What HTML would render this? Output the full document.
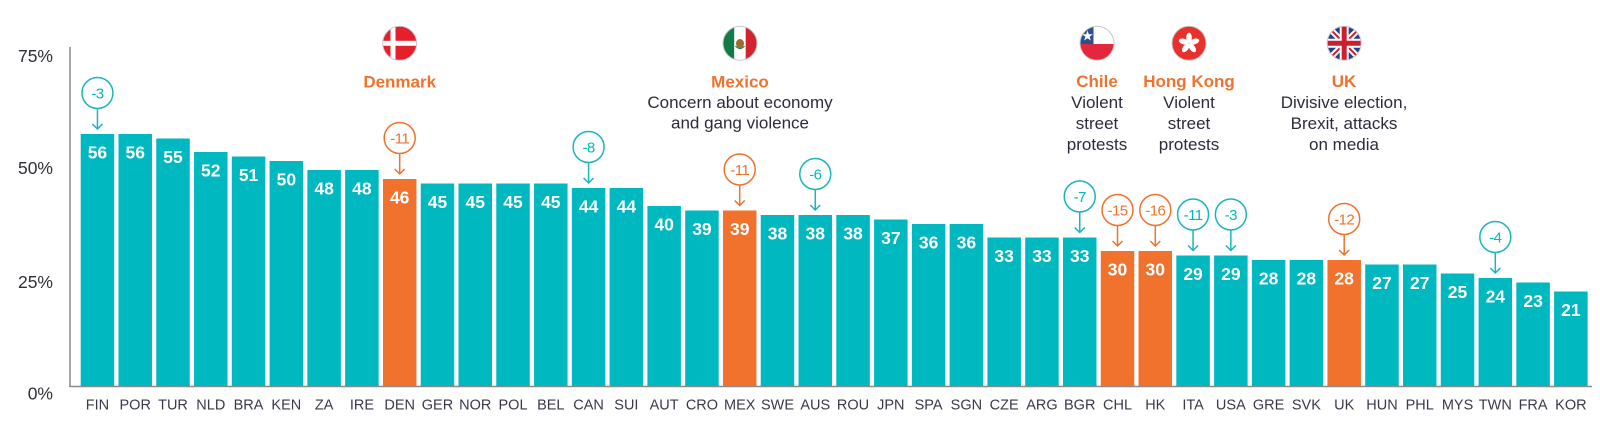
<!DOCTYPE html>
<html>
<head>
<meta charset="utf-8">
<style>
  html,body{margin:0;padding:0;background:#fff;}
  svg{display:block;}
  .yl{font-family:"Liberation Sans",sans-serif;font-size:17.5px;fill:#2f2f3a;text-anchor:end;}
  .cl{font-family:"Liberation Sans",sans-serif;font-size:14.5px;fill:#3a3a48;text-anchor:middle;}
  .vl{font-family:"Liberation Sans",sans-serif;font-size:17.5px;font-weight:bold;fill:#fff;text-anchor:middle;}
  .an{font-family:"Liberation Sans",sans-serif;font-size:15px;letter-spacing:-0.6px;text-anchor:middle;}
  .t{fill:#00b8bf;}
  .o{fill:#f1722c;}
  .hd{font-family:"Liberation Sans",sans-serif;font-size:17px;font-weight:bold;fill:#f1722c;text-anchor:middle;}
  .tx{font-family:"Liberation Sans",sans-serif;font-size:17px;fill:#2c2c3c;text-anchor:middle;}
</style>
</head>
<body>
<svg width="1600" height="421" viewBox="0 0 1600 421" xmlns="http://www.w3.org/2000/svg">
  <defs>
    <clipPath id="cDen"><circle cx="399.7" cy="43.3" r="17"/></clipPath>
    <clipPath id="cMex"><circle cx="740" cy="43.3" r="17"/></clipPath>
    <clipPath id="cChl"><circle cx="1097" cy="43.3" r="17"/></clipPath>
    <clipPath id="cHk"><circle cx="1189" cy="43.3" r="17"/></clipPath>
    <clipPath id="cUk"><circle cx="1344.2" cy="43.3" r="17"/></clipPath>
  </defs>

  <!-- axes -->
  <line x1="70" y1="47" x2="70" y2="386.5" stroke="#8a8a8a" stroke-width="1.5"/>
  <line x1="69.3" y1="386.5" x2="1592" y2="386.5" stroke="#8a8a8a" stroke-width="1.5"/>

  <!-- y labels -->
  <text class="yl" x="53" y="62">75%</text>
  <text class="yl" x="53" y="174">50%</text>
  <text class="yl" x="53" y="288">25%</text>
  <text class="yl" x="53" y="399.5">0%</text>

  <!-- bars -->
  <g fill="#00b8bf">
    <rect x="80.7" y="134" width="33.5" height="252"/>
    <rect x="118.48" y="134" width="33.5" height="252"/>
    <rect x="156.26" y="138.5" width="33.5" height="247.5"/>
    <rect x="194.04" y="152" width="33.5" height="234"/>
    <rect x="231.82" y="156.5" width="33.5" height="229.5"/>
    <rect x="269.6" y="161" width="33.5" height="225"/>
    <rect x="307.38" y="170" width="33.5" height="216"/>
    <rect x="345.16" y="170" width="33.5" height="216"/>
    <rect x="382.94" y="179" width="33.5" height="207" fill="#f1722c"/>
    <rect x="420.72" y="183.5" width="33.5" height="202.5"/>
    <rect x="458.5" y="183.5" width="33.5" height="202.5"/>
    <rect x="496.28" y="183.5" width="33.5" height="202.5"/>
    <rect x="534.06" y="183.5" width="33.5" height="202.5"/>
    <rect x="571.84" y="188" width="33.5" height="198"/>
    <rect x="609.62" y="188" width="33.5" height="198"/>
    <rect x="647.4" y="206" width="33.5" height="180"/>
    <rect x="685.18" y="210.5" width="33.5" height="175.5"/>
    <rect x="722.96" y="210.5" width="33.5" height="175.5" fill="#f1722c"/>
    <rect x="760.74" y="215" width="33.5" height="171"/>
    <rect x="798.52" y="215" width="33.5" height="171"/>
    <rect x="836.3" y="215" width="33.5" height="171"/>
    <rect x="874.08" y="219.5" width="33.5" height="166.5"/>
    <rect x="911.86" y="224" width="33.5" height="162"/>
    <rect x="949.64" y="224" width="33.5" height="162"/>
    <rect x="987.42" y="237.5" width="33.5" height="148.5"/>
    <rect x="1025.2" y="237.5" width="33.5" height="148.5"/>
    <rect x="1062.98" y="237.5" width="33.5" height="148.5"/>
    <rect x="1100.76" y="251" width="33.5" height="135" fill="#f1722c"/>
    <rect x="1138.54" y="251" width="33.5" height="135" fill="#f1722c"/>
    <rect x="1176.32" y="255.5" width="33.5" height="130.5"/>
    <rect x="1214.1" y="255.5" width="33.5" height="130.5"/>
    <rect x="1251.88" y="260" width="33.5" height="126"/>
    <rect x="1289.66" y="260" width="33.5" height="126"/>
    <rect x="1327.44" y="260" width="33.5" height="126" fill="#f1722c"/>
    <rect x="1365.22" y="264.5" width="33.5" height="121.5"/>
    <rect x="1403" y="264.5" width="33.5" height="121.5"/>
    <rect x="1440.78" y="273.5" width="33.5" height="112.5"/>
    <rect x="1478.56" y="278" width="33.5" height="108"/>
    <rect x="1516.34" y="282.5" width="33.5" height="103.5"/>
    <rect x="1554.12" y="291.5" width="33.5" height="94.5"/>
  </g>

  <!-- value labels -->
  <g class="vl">
    <text class="vl" x="97.45" y="158.5">56</text>
    <text class="vl" x="135.23" y="158.5">56</text>
    <text class="vl" x="173.01" y="163">55</text>
    <text class="vl" x="210.79" y="176.5">52</text>
    <text class="vl" x="248.57" y="181">51</text>
    <text class="vl" x="286.35" y="185.5">50</text>
    <text class="vl" x="324.13" y="194.5">48</text>
    <text class="vl" x="361.91" y="194.5">48</text>
    <text class="vl" x="399.69" y="203.5">46</text>
    <text class="vl" x="437.47" y="208">45</text>
    <text class="vl" x="475.25" y="208">45</text>
    <text class="vl" x="513.03" y="208">45</text>
    <text class="vl" x="550.81" y="208">45</text>
    <text class="vl" x="588.59" y="212.5">44</text>
    <text class="vl" x="626.37" y="212.5">44</text>
    <text class="vl" x="664.15" y="230.5">40</text>
    <text class="vl" x="701.93" y="235">39</text>
    <text class="vl" x="739.71" y="235">39</text>
    <text class="vl" x="777.49" y="239.5">38</text>
    <text class="vl" x="815.27" y="239.5">38</text>
    <text class="vl" x="853.05" y="239.5">38</text>
    <text class="vl" x="890.83" y="244">37</text>
    <text class="vl" x="928.61" y="248.5">36</text>
    <text class="vl" x="966.39" y="248.5">36</text>
    <text class="vl" x="1004.17" y="262">33</text>
    <text class="vl" x="1041.95" y="262">33</text>
    <text class="vl" x="1079.73" y="262">33</text>
    <text class="vl" x="1117.51" y="275.5">30</text>
    <text class="vl" x="1155.29" y="275.5">30</text>
    <text class="vl" x="1193.07" y="280">29</text>
    <text class="vl" x="1230.85" y="280">29</text>
    <text class="vl" x="1268.63" y="284.5">28</text>
    <text class="vl" x="1306.41" y="284.5">28</text>
    <text class="vl" x="1344.19" y="284.5">28</text>
    <text class="vl" x="1381.97" y="289">27</text>
    <text class="vl" x="1419.75" y="289">27</text>
    <text class="vl" x="1457.53" y="298">25</text>
    <text class="vl" x="1495.31" y="302.5">24</text>
    <text class="vl" x="1533.09" y="307">23</text>
    <text class="vl" x="1570.87" y="316">21</text>
  </g>

  <!-- country labels -->
  <g>
    <text class="cl" x="97.45" y="409.5">FIN</text>
    <text class="cl" x="135.23" y="409.5">POR</text>
    <text class="cl" x="173.01" y="409.5">TUR</text>
    <text class="cl" x="210.79" y="409.5">NLD</text>
    <text class="cl" x="248.57" y="409.5">BRA</text>
    <text class="cl" x="286.35" y="409.5">KEN</text>
    <text class="cl" x="324.13" y="409.5">ZA</text>
    <text class="cl" x="361.91" y="409.5">IRE</text>
    <text class="cl" x="399.69" y="409.5">DEN</text>
    <text class="cl" x="437.47" y="409.5">GER</text>
    <text class="cl" x="475.25" y="409.5">NOR</text>
    <text class="cl" x="513.03" y="409.5">POL</text>
    <text class="cl" x="550.81" y="409.5">BEL</text>
    <text class="cl" x="588.59" y="409.5">CAN</text>
    <text class="cl" x="626.37" y="409.5">SUI</text>
    <text class="cl" x="664.15" y="409.5">AUT</text>
    <text class="cl" x="701.93" y="409.5">CRO</text>
    <text class="cl" x="739.71" y="409.5">MEX</text>
    <text class="cl" x="777.49" y="409.5">SWE</text>
    <text class="cl" x="815.27" y="409.5">AUS</text>
    <text class="cl" x="853.05" y="409.5">ROU</text>
    <text class="cl" x="890.83" y="409.5">JPN</text>
    <text class="cl" x="928.61" y="409.5">SPA</text>
    <text class="cl" x="966.39" y="409.5">SGN</text>
    <text class="cl" x="1004.17" y="409.5">CZE</text>
    <text class="cl" x="1041.95" y="409.5">ARG</text>
    <text class="cl" x="1079.73" y="409.5">BGR</text>
    <text class="cl" x="1117.51" y="409.5">CHL</text>
    <text class="cl" x="1155.29" y="409.5">HK</text>
    <text class="cl" x="1193.07" y="409.5">ITA</text>
    <text class="cl" x="1230.85" y="409.5">USA</text>
    <text class="cl" x="1268.63" y="409.5">GRE</text>
    <text class="cl" x="1306.41" y="409.5">SVK</text>
    <text class="cl" x="1344.19" y="409.5">UK</text>
    <text class="cl" x="1381.97" y="409.5">HUN</text>
    <text class="cl" x="1419.75" y="409.5">PHL</text>
    <text class="cl" x="1457.53" y="409.5">MYS</text>
    <text class="cl" x="1495.31" y="409.5">TWN</text>
    <text class="cl" x="1533.09" y="409.5">FRA</text>
    <text class="cl" x="1570.87" y="409.5">KOR</text>
  </g>

  <!-- change annotations -->
  <g fill="none" stroke-width="1.5">
    <g stroke="#1bb5bc">
      <circle cx="97.45" cy="93" r="15.5"/>
      <path d="M97.45 108.5 V129 M92.45 124 L97.45 129 L102.45 124"/>
      <circle cx="588.59" cy="147" r="15.5"/>
      <path d="M588.59 162.5 V183 M583.59 178 L588.59 183 L593.59 178"/>
      <circle cx="815.27" cy="174" r="15.5"/>
      <path d="M815.27 189.5 V210 M810.27 205 L815.27 210 L820.27 205"/>
      <circle cx="1079.73" cy="196.5" r="15.5"/>
      <path d="M1079.73 212 V232.5 M1074.73 227.5 L1079.73 232.5 L1084.73 227.5"/>
      <circle cx="1193.07" cy="214.5" r="15.5"/>
      <path d="M1193.07 230 V250.5 M1188.07 245.5 L1193.07 250.5 L1198.07 245.5"/>
      <circle cx="1230.85" cy="214.5" r="15.5"/>
      <path d="M1230.85 230 V250.5 M1225.85 245.5 L1230.85 250.5 L1235.85 245.5"/>
      <circle cx="1495.31" cy="237" r="15.5"/>
      <path d="M1495.31 252.5 V273 M1490.31 268 L1495.31 273 L1500.31 268"/>
    </g>
    <g stroke="#f1722c">
      <circle cx="399.69" cy="138" r="15.5"/>
      <path d="M399.69 153.5 V174 M394.69 169 L399.69 174 L404.69 169"/>
      <circle cx="739.71" cy="169.5" r="15.5"/>
      <path d="M739.71 185 V205.5 M734.71 200.5 L739.71 205.5 L744.71 200.5"/>
      <circle cx="1117.51" cy="210" r="15.5"/>
      <path d="M1117.51 225.5 V246 M1112.51 241 L1117.51 246 L1122.51 241"/>
      <circle cx="1155.29" cy="210" r="15.5"/>
      <path d="M1155.29 225.5 V246 M1150.29 241 L1155.29 246 L1160.29 241"/>
      <circle cx="1344.19" cy="219" r="15.5"/>
      <path d="M1344.19 234.5 V255 M1339.19 250 L1344.19 255 L1349.19 250"/>
    </g>
  </g>
  <g>
    <text class="an t" x="97.45" y="98.5">-3</text>
    <text class="an t" x="588.59" y="152.5">-8</text>
    <text class="an t" x="815.27" y="179.5">-6</text>
    <text class="an t" x="1079.73" y="202">-7</text>
    <text class="an t" x="1193.07" y="220">-11</text>
    <text class="an t" x="1230.85" y="220">-3</text>
    <text class="an t" x="1495.31" y="242.5">-4</text>
    <text class="an o" x="399.69" y="143.5">-11</text>
    <text class="an o" x="739.71" y="175">-11</text>
    <text class="an o" x="1117.51" y="215.5">-15</text>
    <text class="an o" x="1155.29" y="215.5">-16</text>
    <text class="an o" x="1344.19" y="224.5">-12</text>
  </g>

  <!-- flags -->
  <g clip-path="url(#cDen)">
    <rect x="382" y="26" width="36" height="36" fill="#e3202b"/>
    <rect x="390.5" y="26" width="5" height="36" fill="#fff"/>
    <rect x="382" y="40.8" width="36" height="5" fill="#fff"/>
  </g>
  <circle cx="399.7" cy="43.3" r="17" fill="none" stroke="#c8c8c8" stroke-width="1"/>

  <g clip-path="url(#cMex)">
    <rect x="722" y="26" width="12.3" height="36" fill="#127a45"/>
    <rect x="734.3" y="26" width="11.4" height="36" fill="#fff"/>
    <rect x="745.7" y="26" width="12.3" height="36" fill="#d2232f"/>
    <ellipse cx="740" cy="43.5" rx="4" ry="4.5" fill="#9a6b32"/>
    <path d="M735.5 46 Q740 51 744.5 46" stroke="#3a7d3a" stroke-width="1.3" fill="none"/>
  </g>
  <circle cx="740" cy="43.3" r="17" fill="none" stroke="#c8c8c8" stroke-width="1"/>

  <g clip-path="url(#cChl)">
    <rect x="1080" y="26" width="34" height="18" fill="#fff"/>
    <rect x="1080" y="26" width="13.5" height="18" fill="#2d4e92"/>
    <rect x="1080" y="44" width="34" height="18" fill="#e3283e"/>
    <polygon points="1087.5,30.5 1088.8,34.3 1092.8,34.3 1089.6,36.7 1090.8,40.5 1087.5,38.2 1084.2,40.5 1085.4,36.7 1082.2,34.3 1086.2,34.3" fill="#fff"/>
  </g>
  <circle cx="1097" cy="43.3" r="17" fill="none" stroke="#c8c8c8" stroke-width="1"/>

  <g clip-path="url(#cHk)">
    <rect x="1172" y="26" width="34" height="36" fill="#e8302c"/>
    <g fill="#fff">
      <ellipse cx="1189" cy="37.8" rx="2.8" ry="5.2"/>
      <ellipse cx="1189" cy="37.8" rx="2.8" ry="5.2" transform="rotate(72 1189 43.3)"/>
      <ellipse cx="1189" cy="37.8" rx="2.8" ry="5.2" transform="rotate(144 1189 43.3)"/>
      <ellipse cx="1189" cy="37.8" rx="2.8" ry="5.2" transform="rotate(216 1189 43.3)"/>
      <ellipse cx="1189" cy="37.8" rx="2.8" ry="5.2" transform="rotate(288 1189 43.3)"/>
    </g>
  </g>
  <circle cx="1189" cy="43.3" r="17" fill="none" stroke="#c8c8c8" stroke-width="1"/>

  <g clip-path="url(#cUk)">
    <rect x="1327" y="26" width="35" height="36" fill="#253f8c"/>
    <path d="M1327 26 L1362 61 M1362 26 L1327 61" stroke="#fff" stroke-width="6"/>
    <path d="M1327 26 L1362 61 M1362 26 L1327 61" stroke="#c8202f" stroke-width="2"/>
    <path d="M1344.2 26 V62 M1327 43.3 H1362" stroke="#fff" stroke-width="9"/>
    <path d="M1344.2 26 V62 M1327 43.3 H1362" stroke="#c8202f" stroke-width="5"/>
  </g>
  <circle cx="1344.2" cy="43.3" r="17" fill="none" stroke="#c8c8c8" stroke-width="1"/>

  <!-- headlines -->
  <text class="hd" x="399.7" y="87.5">Denmark</text>

  <text class="hd" x="740" y="87.5">Mexico</text>
  <text class="tx" x="740" y="108">Concern about economy</text>
  <text class="tx" x="740" y="128.5">and gang violence</text>

  <text class="hd" x="1097" y="87">Chile</text>
  <text class="tx" x="1097" y="108">Violent</text>
  <text class="tx" x="1097" y="129">street</text>
  <text class="tx" x="1097" y="150">protests</text>

  <text class="hd" x="1189" y="87">Hong Kong</text>
  <text class="tx" x="1189" y="108">Violent</text>
  <text class="tx" x="1189" y="129">street</text>
  <text class="tx" x="1189" y="150">protests</text>

  <text class="hd" x="1344" y="87">UK</text>
  <text class="tx" x="1344" y="108">Divisive election,</text>
  <text class="tx" x="1344" y="129">Brexit, attacks</text>
  <text class="tx" x="1344" y="150">on media</text>
</svg>
</body>
</html>
